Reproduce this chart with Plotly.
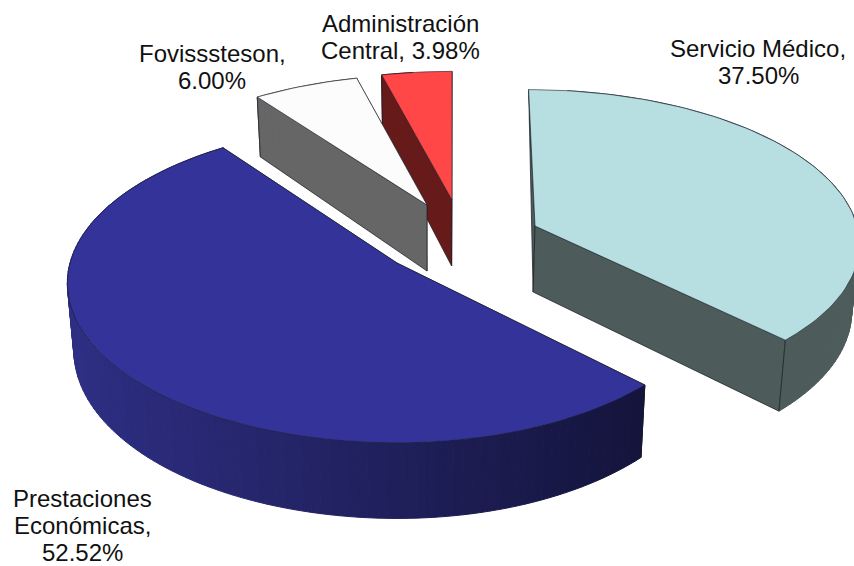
import math
import plotly.graph_objects as go

# data
categories = ["Servicio Médico", "Prestaciones Económicas", "Fovissteson", "Administración Central"]
values = [37.50, 52.52, 6.00, 3.98]
label_lines = [
    ["Servicio Médico,", "37.50%"],
    ["Prestaciones", "Económicas,", "52.52%"],
    ["Fovisssteson,", "6.00%"],
    ["Administración", "Central, 3.98%"],
]
label_pos = [(758, 48), (82, 498), (212, 53), (400, 23)]

# style / layout of the 3-D projection
top_colors = ["#B7DEE1", "#333399", "#FCFCFC", "#FF4747"]
wall_a = [(77, 92, 91), (20, 20, 60), (102, 102, 102), (102, 26, 26)]
wall_b = [(77, 92, 91), (46, 46, 132), (102, 102, 102), (102, 26, 26)]
apex = [(535, 226), (397, 263), (427, 205), (452, 200)]
ry_list = [150, 157, 147, 145]
rx_right = [322, 319, 319, 319]
rx_left = [319, 327, 319, 319]
k_list = [0.10, 0.127, 0.127, 0.127]
shear = [-7, 0, 0, 0]
H, VPX, SHRINK = 66, 430, 0.018
draw_order = [3, 2, 0, 1]


def project(i, theta, up=True):
    u, v = math.sin(theta), math.cos(theta)
    s = 1 / (1 + k_list[i] * v)
    rx = rx_right[i] if u >= 0 else rx_left[i]
    x = apex[i][0] + (rx * u + shear[i] * v) * s
    y = apex[i][1] - ry_list[i] * v * s
    if up:
        return x, y
    return x + (VPX - x) * SHRINK, y + H * s


def apex_pt(i, up=True):
    x, y = apex[i]
    if up:
        return x, y
    return x + (VPX - x) * SHRINK, y + H


def poly(fig, pts, fill, line, width):
    xs = [p[0] for p in pts] + [pts[0][0]]
    ys = [p[1] for p in pts] + [pts[0][1]]
    fig.add_trace(go.Scatter(x=xs, y=ys, mode="lines", fill="toself", fillcolor=fill,
                             line=dict(color=line, width=width), hoverinfo="skip", showlegend=False))


def rgb(c):
    return "rgb(%d,%d,%d)" % tuple(round(a) for a in c)


total = sum(values)
spans = []
a = 0.0
for val in values:
    b = a + val / total * 2 * math.pi
    spans.append((a, b))
    a = b

fig = go.Figure()
EDGE = "rgba(25,30,35,0.9)"
for i in draw_order:
    a, b = spans[i]
    # straight walls, farther one first; a wall seen edge-on is only a sliver
    edges = sorted([a, b], key=lambda t: -math.cos(t))
    for t in edges:
        pts = [project(i, t), apex_pt(i), apex_pt(i, False)]
        if math.cos(t) < 0.99:
            pts.append(project(i, t, False))
        poly(fig, pts, rgb(wall_a[i]), EDGE, 0.8)
    # curved wall: strips, colour by screen x
    n = max(2, int((b - a) / math.radians(1.5)))
    angs = [a + (b - a) * k / n for k in range(n + 1)]
    xs_all = [project(i, t)[0] for t in angs]
    xmin, xmax = min(xs_all), max(xs_all)
    for k in range(n):
        t0, t1 = angs[k], angs[k + 1]
        f = (xmax - (project(i, t0)[0] + project(i, t1)[0]) / 2) / max(xmax - xmin, 1)
        col = rgb([wall_a[i][c] + (wall_b[i][c] - wall_a[i][c]) * f for c in range(3)])
        # the back of the arc sits behind the top face: skip it
        if math.cos((t0 + t1) / 2) > 0.99:
            continue
        poly(fig, [project(i, t0), project(i, t1), project(i, t1, False), project(i, t0, False)], col, col, 1)
    # vertical corner lines
    for t in (a, b):
        if math.cos(t) >= 0.99:
            continue
        p, q = project(i, t), project(i, t, False)
        fig.add_trace(go.Scatter(x=[p[0], q[0]], y=[p[1], q[1]], mode="lines",
                                 line=dict(color=EDGE, width=0.8), hoverinfo="skip", showlegend=False))
    # top face
    m = max(4, int((b - a) / math.radians(1.5)))
    arc = [project(i, a + (b - a) * k / m) for k in range(m + 1)]
    poly(fig, [apex_pt(i)] + arc, top_colors[i], "rgba(25,30,45,0.75)", 0.8)

annotations = []
for lines, (cx, cy) in zip(label_lines, label_pos):
    for j, line in enumerate(lines):
        annotations.append(dict(x=cx, y=cy + j * 27, text=line, showarrow=False, xref="x", yref="y",
                                xanchor="center", yanchor="middle",
                                font=dict(family="Liberation Sans", size=24, color="#111111")))

fig.update_layout(
    width=854, height=566, autosize=False,
    margin=dict(l=0, r=0, t=0, b=0),
    paper_bgcolor="white", plot_bgcolor="white", showlegend=False,
    xaxis=dict(range=[0, 854], visible=False, fixedrange=True),
    yaxis=dict(range=[566, 0], visible=False, fixedrange=True),
    annotations=annotations,
)
fig.write_html("out.html", config={"displayModeBar": False},
               post_script="document.body.style.margin='0';document.body.style.overflow='hidden';")
